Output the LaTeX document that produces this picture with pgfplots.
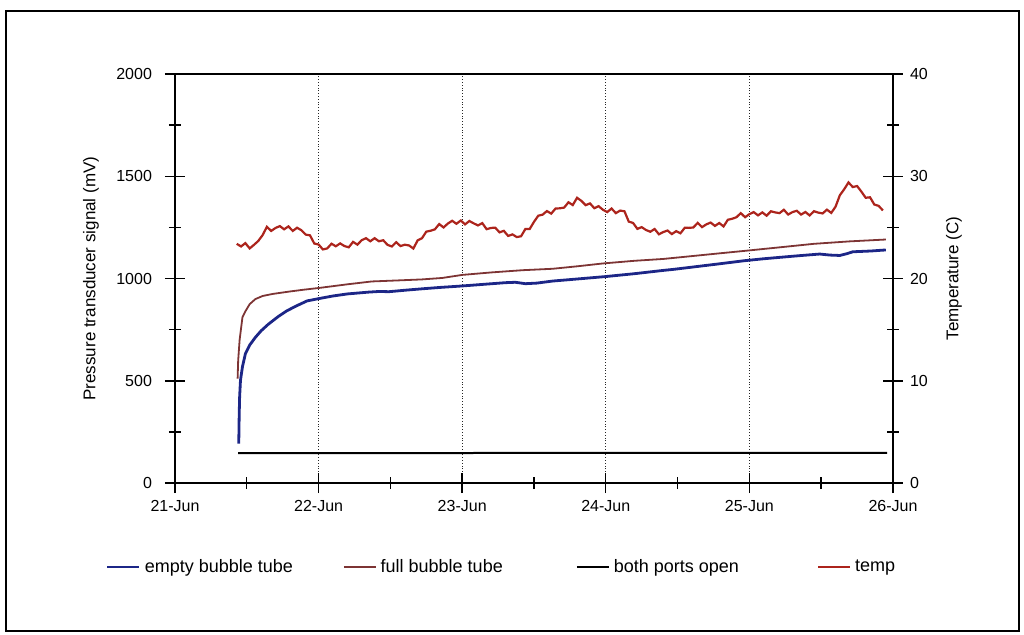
\documentclass[border=0pt]{standalone}
\usepackage{pgfplots}
\pgfplotsset{compat=1.18}
\usepackage{fontspec}
\setmainfont{Liberation Sans}
\definecolor{emptyc}{RGB}{28,38,135}
\definecolor{fullc}{RGB}{125,52,52}
\definecolor{tempc}{RGB}{172,36,28}

\begin{document}
\begin{tikzpicture}
\useasboundingbox (0pt,0pt) rectangle (512pt,-317.5pt);
\draw[line width=1pt] (3pt,-5.5pt) rectangle (509.5pt,-315.5pt);
\pgfplotsset{base/.style={
  width=359pt, height=204.6pt, scale only axis,
  at={(87.5pt,-241.6pt)}, anchor=south west,
  xmin=21, xmax=26, no markers,
  /pgf/number format/assume math mode=true,
  /pgf/number format/1000 sep={},
  tick align=center, major tick length=10pt, minor tick length=6pt,
  ticklabel style={font=\fontsize{8}{9.6}\selectfont},
  axis line style={line width=0.9pt},
  every tick/.style={black, line width=0.7pt},
}}
\begin{axis}[base,
  ymin=0, ymax=2000,
  ytick={0,500,...,2000}, minor ytick={250,750,...,1750},
  ytick pos=left,
  yticklabel style={xshift=-3pt},
  xtick={21,...,26},
  xticklabels={21-Jun,22-Jun,23-Jun,24-Jun,25-Jun,26-Jun},
  minor xtick={21.5,22.5,...,25.5},
  xtick pos=left,
  xmajorgrids,
  major grid style={densely dotted, line width=0.6pt, black!85},
  scaled y ticks=false,
  ylabel={Pressure transducer signal (mV)},
  every axis y label/.style={at={(axis description cs:-0.117,0.5)}, rotate=90, anchor=center, font=\fontsize{8.5}{10}\selectfont},
]
% empty bubble tube
\addplot[emptyc, line width=1.4pt] coordinates {
(21.444,193) (21.447,330) (21.450,420) (21.456,503) (21.47,570) (21.49,632)
(21.52,675) (21.56,713) (21.60,745) (21.65,777) (21.72,815) (21.78,843)
(21.85,868) (21.92,891) (22.00,902) (22.10,915) (22.20,925) (22.35,934)
(22.42,937) (22.49,936) (22.60,943) (22.72,950) (22.85,957) (23.00,964)
(23.15,972) (23.30,980) (23.37,982) (23.44,975) (23.52,978) (23.63,988)
(23.80,998) (24.00,1010) (24.20,1024) (24.40,1040) (24.47,1045) (24.60,1056)
(24.80,1073) (24.96,1087) (25.10,1097) (25.33,1111) (25.49,1120) (25.56,1115)
(25.63,1113) (25.68,1122) (25.72,1131) (25.85,1135) (25.95,1140)
};
% full bubble tube
\addplot[fullc, line width=0.9pt] coordinates {
(21.436,511) (21.44,600) (21.45,700) (21.47,812) (21.49,840) (21.52,875)
(21.56,900) (21.61,915) (21.68,925) (21.80,937) (21.90,946) (22.00,954)
(22.20,972) (22.37,986) (22.55,991) (22.72,996) (22.86,1003) (23.00,1018)
(23.20,1030) (23.42,1041) (23.63,1048) (23.80,1060) (23.98,1074) (24.20,1087)
(24.40,1096) (24.60,1110) (24.80,1124) (24.96,1135) (25.20,1152) (25.45,1170)
(25.70,1182) (25.95,1191)
};
% both ports open
\addplot[black, line width=1pt] coordinates {
(21.44,147) (22.5,147) (23.5,148) (24.5,148) (25.96,148)
};
\end{axis}
\begin{axis}[base,
  ymin=0, ymax=40,
  axis x line=none, axis y line*=right,
  ytick={0,10,...,40}, minor ytick={5,15,25,35},
  ylabel={Temperature (C)},
  every axis y label/.style={at={(axis description cs:1.085,0.5)}, rotate=90, anchor=center, font=\fontsize{8.5}{10}\selectfont},
  legend columns=4,
  legend style={at={(axis description cs:-0.105,-0.205)}, anchor=west,
    draw=none, fill=none, font=\fontsize{9}{10.5}\selectfont,
    /tikz/column 2/.style={column sep=23pt},
    /tikz/column 4/.style={column sep=34.5pt},
    /tikz/column 6/.style={column sep=37pt}},
  legend image code/.code={\draw[#1] (0pt,0pt) -- (16pt,0pt);},
]
\addlegendimage{emptyc, line width=1.4pt}
\addlegendentry{empty bubble tube}
\addlegendimage{fullc, line width=0.9pt}
\addlegendentry{full bubble tube}
\addlegendimage{black, line width=1pt}
\addlegendentry{both ports open}
\addplot[tempc, line width=1.1pt] coordinates {
(21.43,23.4) (21.46,23.14) (21.49,23.47) (21.52,22.95) (21.55,23.3) (21.58,23.68)
(21.61,24.25) (21.64,25.06) (21.67,24.66) (21.70,24.95) (21.73,25.13) (21.76,24.82)
(21.79,25.1) (21.82,24.66) (21.85,24.97) (21.88,24.73) (21.91,24.3) (21.94,24.23)
(21.97,23.43) (22.00,23.33) (22.03,22.85) (22.06,22.95) (22.09,23.41) (22.12,23.16)
(22.15,23.44) (22.18,23.18) (22.21,23.06) (22.24,23.59) (22.27,23.32) (22.30,23.75)
(22.33,23.95) (22.36,23.65) (22.39,23.95) (22.42,23.65) (22.45,23.75) (22.48,23.3)
(22.51,23.14) (22.54,23.56) (22.57,23.18) (22.60,23.31) (22.63,23.24) (22.66,22.94)
(22.69,23.74) (22.72,23.95) (22.75,24.59) (22.78,24.68) (22.81,24.82) (22.84,25.33)
(22.87,25.0) (22.90,25.38) (22.93,25.65) (22.96,25.36) (22.99,25.68) (23.02,25.3)
(23.05,25.63) (23.08,25.4) (23.11,25.2) (23.14,25.42) (23.17,24.83) (23.20,24.95)
(23.23,24.98) (23.26,24.52) (23.29,24.67) (23.32,24.17) (23.35,24.32) (23.38,24.06)
(23.41,24.14) (23.44,24.85) (23.47,24.85) (23.50,25.55) (23.53,26.15) (23.56,26.25)
(23.59,26.6) (23.62,26.35) (23.65,26.85) (23.68,26.87) (23.71,26.94) (23.74,27.46)
(23.77,27.19) (23.80,27.9) (23.83,27.6) (23.86,27.18) (23.89,27.35) (23.92,26.88)
(23.95,27.08) (23.98,26.73) (24.01,26.5) (24.04,26.85) (24.07,26.4) (24.10,26.65)
(24.13,26.58) (24.16,25.57) (24.19,25.44) (24.22,24.86) (24.25,25.03) (24.28,24.75)
(24.31,24.58) (24.34,24.85) (24.37,24.33) (24.40,24.55) (24.43,24.7) (24.46,24.35)
(24.49,24.64) (24.52,24.43) (24.55,24.97) (24.58,24.96) (24.61,25.0) (24.64,25.45)
(24.67,25.03) (24.70,25.3) (24.73,25.48) (24.76,25.15) (24.79,25.43) (24.82,25.1)
(24.85,25.75) (24.88,25.85) (24.91,26.0) (24.94,26.4) (24.97,26.0) (25.00,26.3)
(25.03,26.5) (25.06,26.18) (25.09,26.47) (25.12,26.15) (25.15,26.58) (25.18,26.47)
(25.21,26.4) (25.24,26.73) (25.27,26.26) (25.30,26.5) (25.33,26.63) (25.36,26.26)
(25.39,26.51) (25.42,26.17) (25.45,26.59) (25.48,26.45) (25.51,26.37) (25.54,26.74)
(25.57,26.42) (25.60,27.03) (25.63,28.15) (25.66,28.73) (25.69,29.4) (25.72,28.95)
(25.75,29.05) (25.78,28.5) (25.81,27.9) (25.84,27.95) (25.87,27.24) (25.90,27.11)
(25.93,26.66)
};
\addlegendentry{temp}
\end{axis}
\end{tikzpicture}
\end{document}
